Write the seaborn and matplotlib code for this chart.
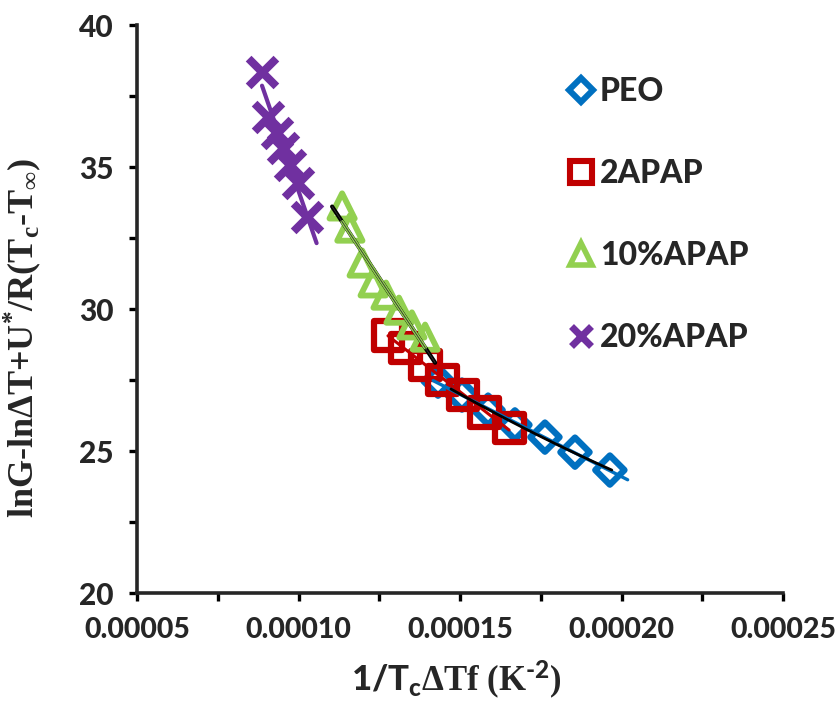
import numpy as np
import pandas as pd
import matplotlib
matplotlib.use("Agg")
import matplotlib.pyplot as plt
from matplotlib.lines import Line2D
from matplotlib.ticker import MultipleLocator, FormatStrFormatter
import seaborn as sns

# x: 1/(Tc*dTf) in K^-2 ; y: lnG - lndT + U*/R(Tc - Tinf)
peo_x = [1.432e-4, 1.506e-4, 1.587e-4, 1.670e-4, 1.763e-4, 1.856e-4, 1.964e-4]
peo_y = [27.46, 26.97, 26.44, 25.92, 25.49, 24.96, 24.33]

apap2_x = [1.277e-4, 1.330e-4, 1.392e-4, 1.447e-4, 1.509e-4, 1.577e-4, 1.652e-4]
apap2_y = [29.08, 28.63, 28.03, 27.50, 26.97, 26.37, 25.81]

apap10_x = [1.135e-4, 1.159e-4, 1.197e-4, 1.231e-4, 1.271e-4, 1.311e-4, 1.351e-4, 1.392e-4]
apap10_y = [33.63, 32.85, 31.62, 30.92, 30.49, 29.96, 29.44, 29.01]

apap20_x = [0.887e-4, 0.906e-4, 0.933e-4, 0.952e-4, 0.974e-4, 0.998e-4, 1.026e-4]
apap20_y = [38.35, 36.76, 36.20, 35.67, 35.07, 34.44, 33.24]

series_names = ["PEO", "2APAP", "10%APAP", "20%APAP"]

BLUE, RED, GREEN, PURPLE = "#0070C0", "#C00000", "#92D050", "#7030A0"

sns.set_style("ticks")
plt.rcParams["font.family"] = ["Lato", "DejaVu Sans"]
plt.rcParams["font.weight"] = "black"
plt.rcParams["mathtext.fontset"] = "custom"
plt.rcParams["mathtext.rm"] = "Lato:black"
plt.rcParams["mathtext.it"] = "Lato:black:italic"
plt.rcParams["mathtext.bf"] = "Lato:black"

fig = plt.figure(figsize=(8.36, 7.07), dpi=100)
ax = fig.add_axes([0.1639, 0.1612, 0.7727, 0.8034])

df = pd.concat([
    pd.DataFrame({"x": peo_x, "y": peo_y, "s": series_names[0]}),
    pd.DataFrame({"x": apap2_x, "y": apap2_y, "s": series_names[1]}),
    pd.DataFrame({"x": apap10_x, "y": apap10_y, "s": series_names[2]}),
    pd.DataFrame({"x": apap20_x, "y": apap20_y, "s": series_names[3]}),
])

# scatter markers (hollow outlines, solid cross)
sns.scatterplot(data=df[df.s == "PEO"], x="x", y="y", marker="D", s=220,
                facecolor="none", edgecolor=BLUE, linewidth=4.6, ax=ax, zorder=3)
sns.scatterplot(data=df[df.s == "2APAP"], x="x", y="y", marker="s", s=430,
                facecolor="none", edgecolor=RED, linewidth=4.5, ax=ax, zorder=4)
sns.scatterplot(data=df[df.s == "10%APAP"], x="x", y="y", marker="^", s=330,
                facecolor="none", edgecolor=GREEN, linewidth=4.2, ax=ax, zorder=5)
sns.scatterplot(data=df[df.s == "20%APAP"], x="x", y="y", marker="x", s=400,
                color=PURPLE, linewidth=5.8, ax=ax, zorder=6)


def trend(xs, ys, deg, back=0.0, fwd=0.0, n=60):
    coef = np.polyfit(xs, ys, deg)
    xx = np.linspace(min(xs) - back, max(xs) + fwd, n)
    return xx, np.polyval(coef, xx)


# trend lines drawn over the markers
xx, yy = trend(peo_x, peo_y, 1, back=1.5e-6, fwd=5.5e-6)
sns.lineplot(x=xx, y=yy, color=BLUE, lw=2.4, ax=ax, zorder=7)
xx, yy = trend(peo_x, peo_y, 2, back=-4e-6, fwd=0.6e-6)
sns.lineplot(x=xx, y=yy, color="black", lw=2.0, ax=ax, zorder=8)

xx, yy = trend(apap2_x, apap2_y, 1)
sns.lineplot(x=xx, y=yy, color=RED, lw=2.2, ax=ax, zorder=7)

xx, yy = trend(apap10_x, apap10_y, 1, back=3.1e-6, fwd=3.1e-6)
sns.lineplot(x=xx, y=yy, color="black", lw=3.0, ax=ax, zorder=7)
xx, yy = trend(apap10_x, apap10_y, 1)
sns.lineplot(x=xx, y=yy, color=GREEN, lw=2.6, ax=ax, zorder=8)
xx, yy = trend(apap10_x, apap10_y, 1, back=3.1e-6, fwd=3.1e-6)
sns.lineplot(x=xx, y=yy, color="#333333", lw=0.6, ax=ax, zorder=9)

xx, yy = trend(apap20_x, apap20_y, 1, fwd=3.0e-6)
sns.lineplot(x=xx, y=yy, color=PURPLE, lw=3.0, ax=ax, zorder=7)

# axes
ax.set_xlim(0.00005, 0.00025)
ax.set_ylim(20, 40)
ax.xaxis.set_major_locator(MultipleLocator(0.00005))
ax.xaxis.set_minor_locator(MultipleLocator(0.000025))
ax.yaxis.set_major_locator(MultipleLocator(5))
ax.yaxis.set_minor_locator(MultipleLocator(2.5))
ax.xaxis.set_major_formatter(FormatStrFormatter("%.5f"))
ax.yaxis.set_major_formatter(FormatStrFormatter("%d"))
for side in ("top", "right"):
    ax.spines[side].set_visible(False)
for side in ("left", "bottom"):
    ax.spines[side].set_linewidth(2.6)
ax.tick_params(which="both", direction="out", length=6, width=2.4, color="black")
ax.tick_params(axis="y", which="major", labelsize=21.5, pad=11)
ax.tick_params(axis="x", which="major", labelsize=20.5, pad=11)

ax.set_xlabel(r"$\mathrm{1/T_c}$ΔTf (K$^{\text{-2}}$)",
              fontfamily="Liberation Serif", fontweight="bold", fontsize=25)
ax.set_ylabel(r"lnG-lnΔT+U$^{\mathregular{*}}$/R(T$_{\mathregular{c}}$-T$_{\mathregular{∞}}$)",
              fontfamily="Liberation Serif", fontweight="bold", fontsize=26)
ax.xaxis.set_label_coords(0.495, -0.115)
ax.yaxis.set_label_coords(-0.145, 0.45)

handles = [
    Line2D([], [], ls="none", marker="D", ms=12, mfc="none", mec=BLUE, mew=4.4),
    Line2D([], [], ls="none", marker="s", ms=16, mfc="none", mec=RED, mew=4.4),
    Line2D([], [], ls="none", marker="^", ms=16, mfc="none", mec=GREEN, mew=4.0),
    Line2D([], [], ls="none", marker="x", ms=15, mfc=PURPLE, mec=PURPLE, mew=5.0),
]
ax.legend(handles, series_names, loc="upper left", bbox_to_anchor=(0.662, 0.908),
          frameon=False, fontsize=23, handlelength=1.0, handletextpad=0.1,
          labelspacing=1.66, borderpad=0, borderaxespad=0)

fig.savefig("out.png", dpi=100)
